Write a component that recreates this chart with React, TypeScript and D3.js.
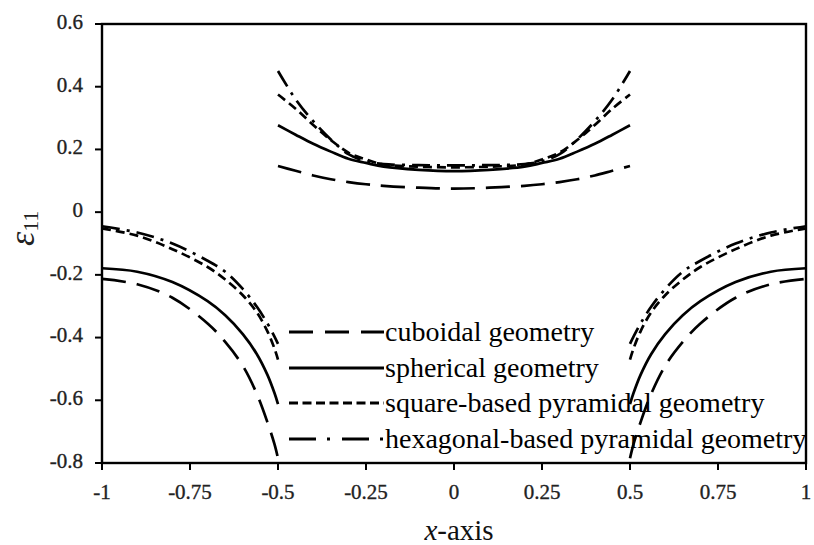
import * as d3 from "d3";

// x grid of each branch
const leftX = [-1, -0.9, -0.8, -0.7, -0.65, -0.6, -0.56, -0.53, -0.51, -0.5];
const midX = [-0.5, -0.45, -0.4, -0.35, -0.3, -0.25, -0.2, -0.1, 0, 0.1, 0.2, 0.25, 0.3, 0.35, 0.4, 0.45, 0.5];
const rightX = [0.5, 0.51, 0.53, 0.56, 0.6, 0.65, 0.7, 0.8, 0.9, 1];

// strain values
const cuboidLeft = [-0.213, -0.23, -0.273, -0.355, -0.414, -0.49, -0.58, -0.67, -0.74, -0.785];
const cuboidMid = [0.147, 0.132, 0.117, 0.105, 0.096, 0.089, 0.084, 0.078, 0.075, 0.078, 0.084, 0.089, 0.096, 0.105, 0.117, 0.132, 0.147];
const cuboidRight = [-0.785, -0.74, -0.67, -0.58, -0.49, -0.414, -0.355, -0.273, -0.23, -0.213];

const sphereLeft = [-0.179, -0.19, -0.223, -0.284, -0.329, -0.389, -0.453, -0.519, -0.577, -0.612];
const sphereMid = [0.277, 0.247, 0.218, 0.193, 0.17, 0.157, 0.145, 0.135, 0.131, 0.135, 0.145, 0.157, 0.17, 0.193, 0.218, 0.247, 0.277];
const sphereRight = [-0.612, -0.577, -0.519, -0.453, -0.389, -0.329, -0.284, -0.223, -0.19, -0.179];

const squareLeft = [-0.052, -0.075, -0.118, -0.175, -0.215, -0.265, -0.32, -0.38, -0.435, -0.47];
const squareMid = [0.375, 0.33, 0.278, 0.23, 0.19, 0.168, 0.152, 0.145, 0.143, 0.145, 0.152, 0.168, 0.19, 0.23, 0.278, 0.33, 0.375];
const squareRight = [-0.47, -0.435, -0.38, -0.32, -0.265, -0.215, -0.175, -0.118, -0.075, -0.052];

const hexLeft = [-0.045, -0.065, -0.1, -0.155, -0.19, -0.245, -0.302, -0.355, -0.397, -0.42];
const hexMid = [0.45, 0.36, 0.29, 0.232, 0.185, 0.162, 0.153, 0.15, 0.149, 0.15, 0.153, 0.162, 0.185, 0.232, 0.29, 0.36, 0.45];
const hexRight = [-0.42, -0.397, -0.355, -0.302, -0.245, -0.19, -0.155, -0.1, -0.065, -0.045];

const xTicks = [-1, -0.75, -0.5, -0.25, 0, 0.25, 0.5, 0.75, 1];
const yTicks = [0.6, 0.4, 0.2, 0, -0.2, -0.4, -0.6, -0.8];

const series = [
  { name: "cuboidal geometry", branches: [cuboidLeft, cuboidMid, cuboidRight], dash: "24,11", legendDash: "24,12" },
  { name: "spherical geometry", branches: [sphereLeft, sphereMid, sphereRight], dash: null, legendDash: null },
  { name: "square-based pyramidal geometry", branches: [squareLeft, squareMid, squareRight], dash: "9,5", legendDash: "9,4.5" },
  { name: "hexagonal-based pyramidal geometry", branches: [hexLeft, hexMid, hexRight], dash: "18,7,3,7", legendDash: "27,11,3,12" },
];

export default function App({
  width = 814,
  height = 545,
  marginTop = 24,
  marginRight = 8,
  marginBottom = 82,
  marginLeft = 102,
}) {
  const scaleX = d3.scaleLinear([-1, 1], [marginLeft, width - marginRight]);
  const scaleY = d3.scaleLinear([-0.8, 0.6], [height - marginBottom, marginTop]);
  const xs = [leftX, midX, rightX];

  const line = d3
    .line<[number, number]>()
    .x((d) => scaleX(d[0]))
    .y((d) => scaleY(d[1]))
    .curve(d3.curveCatmullRom.alpha(0.5));

  const bottom = height - marginBottom;
  const font = "'Liberation Serif', 'Times New Roman', serif";
  const legendRows = [332, 368, 403, 439];

  return (
    <svg
      width={width}
      height={height}
      style={{ position: "absolute", left: 0, top: 0, background: "#fff" }}
    >
      {/* legend */}
      <g>
        {series.map((s, i) => (
          <g key={s.name}>
            <line
              x1={289}
              x2={384}
              y1={legendRows[i]}
              y2={legendRows[i]}
              stroke="#000"
              strokeWidth={2.8}
              strokeDasharray={s.legendDash ?? undefined}
            />
            <text x={385} y={legendRows[i] + 9} fontFamily={font} fontSize={28} fill="#000">
              {s.name}
            </text>
          </g>
        ))}
      </g>

      {/* curves */}
      <g fill="none" stroke="#000" strokeWidth={2.7}>
        {series.map((s) =>
          s.branches.map((vals, b) => (
            <path
              key={s.name + b}
              d={line(vals.map((v, i) => [xs[b][i], v] as [number, number])) ?? ""}
              strokeDasharray={s.dash ?? undefined}
            />
          ))
        )}
      </g>

      {/* frame */}
      <rect
        x={marginLeft}
        y={marginTop}
        width={width - marginRight - marginLeft}
        height={bottom - marginTop}
        fill="none"
        stroke="#000"
        strokeWidth={2.4}
      />

      {/* y axis */}
      <g fontFamily={font} fontSize={21} fill="#222" stroke="#222" strokeWidth={0.35}>
        {yTicks.map((t) => (
          <g key={t}>
            <line x1={marginLeft - 7} x2={marginLeft} y1={scaleY(t)} y2={scaleY(t)} stroke="#000" strokeWidth={2} />
            <text x={83} y={scaleY(t)} textAnchor="end" dominantBaseline="middle">
              {t === 0 ? "0" : String(t)}
            </text>
          </g>
        ))}
      </g>

      {/* x axis */}
      <g fontFamily={font} fontSize={21} fill="#222" stroke="#222" strokeWidth={0.35}>
        {xTicks.map((t) => (
          <g key={t}>
            <line x1={scaleX(t)} x2={scaleX(t)} y1={bottom} y2={bottom + 7} stroke="#000" strokeWidth={2} />
            <text x={scaleX(t)} y={499} textAnchor="middle">
              {String(t)}
            </text>
          </g>
        ))}
      </g>

      {/* axis titles */}
      <text x={459} y={540} textAnchor="middle" fontFamily={font} fontSize={29} fill="#111">
        <tspan fontStyle="italic">x</tspan>-axis
      </text>
      <text transform="translate(34,246) rotate(-90)" fontFamily={font} fontSize={36} fill="#222">
        <tspan fontStyle="italic">ε</tspan>
        <tspan fontSize={22} dy={4}>11</tspan>
      </text>
    </svg>
  );
}
